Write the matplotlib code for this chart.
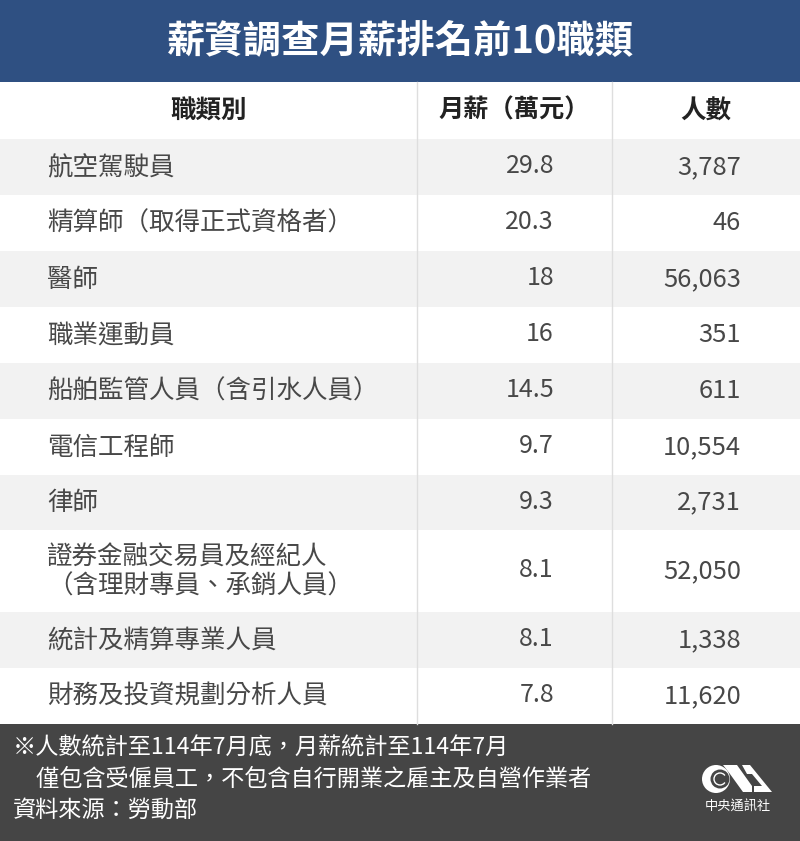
import matplotlib
matplotlib.use("Agg")
import matplotlib.pyplot as plt
from matplotlib.patches import Rectangle, Circle, Polygon, Wedge

plt.rcParams['font.family'] = ['Noto Sans CJK TC', 'DejaVu Sans']

title = "薪資調查月薪排名前10職類"
headers = ["職類別", "月薪（萬元）", "人數"]
jobs = ["航空駕駛員", "精算師（取得正式資格者）", "醫師", "職業運動員",
        "船舶監管人員（含引水人員）", "電信工程師", "律師",
        "證券金融交易員及經紀人\n（含理財專員、承銷人員）",
        "統計及精算專業人員", "財務及投資規劃分析人員"]
salary = ["29.8", "20.3", "18", "16", "14.5", "9.7", "9.3", "8.1", "8.1", "7.8"]
people = ["3,787", "46", "56,063", "351", "611", "10,554", "2,731", "52,050", "1,338", "11,620"]
notes = ["※人數統計至114年7月底，月薪統計至114年7月",
         "　僅包含受僱員工，不包含自行開業之雇主及自營作業者",
         "資料來源：勞動部"]
row_tops = [139, 195, 251, 307, 363, 419, 475, 530, 612, 668, 724]

fig = plt.figure(figsize=(8, 8.41), dpi=100, facecolor="white")
ax = fig.add_axes([0, 0, 1, 1])
ax.set_xlim(0, 800)
ax.set_ylim(841, 0)
ax.axis("off")

# banner + footer
ax.add_patch(Rectangle((0, 0), 800, 82, color="#2f5082", lw=0))
ax.text(400, 42, title, color="white", fontsize=27.6, fontweight="bold", ha="center", va="center")
ax.add_patch(Rectangle((0, 724), 800, 117, color="#454545", lw=0))

# striped rows
for i in range(len(jobs)):
    if i % 2 == 0:
        ax.add_patch(Rectangle((0, row_tops[i]), 800, row_tops[i+1]-row_tops[i], color="#f2f2f2", lw=0))

# column lines
ax.plot([417, 417], [82, 724], color="#dedede", lw=1)
ax.plot([612, 612], [82, 724], color="#dedede", lw=1)

ax.text(209, 111, headers[0], fontsize=18.4, fontweight="bold", ha="center", va="center", color="#222222")
ax.text(514, 110, headers[1], fontsize=18.2, fontweight="bold", ha="center", va="center", color="#222222")
ax.text(706, 111, headers[2], fontsize=18.4, fontweight="bold", ha="center", va="center", color="#222222")

for i in range(len(jobs)):
    y = (row_tops[i] + row_tops[i+1]) / 2
    ax.text(47, y+1, jobs[i], fontsize=18.4, ha="left", va="center", color="#484848", linespacing=1.17)
    ax.text(554, y-1, salary[i], fontsize=18, ha="right", va="center", color="#484848")
    ax.text(741, y, people[i], fontsize=18.4, ha="right", va="center", color="#484848")

for y, line in zip([748, 779, 810], notes):
    ax.text(13, y, line, fontsize=16.7, ha="left", va="center", color="white")

# CNA logo
ax.add_patch(Circle((716, 779), 14, color="white", lw=0))
ax.add_patch(Circle((720, 779), 9.5, color="#454545", lw=0))
ax.add_patch(Circle((720, 779), 6, fill=False, ec="white", lw=1))
ax.add_patch(Wedge((720, 779), 8, -35, 35, color="#454545", lw=0))
ax.add_patch(Polygon([(723, 765), (737, 765), (752, 786), (752, 792), (743, 792), (730, 774)], color="white", lw=0))
ax.add_patch(Polygon([(742, 765), (750, 765), (772, 792), (754, 792), (754, 786), (762, 786), (752, 774), (747, 774)], color="white", lw=0))
ax.text(738, 807, "中央通訊社", color="white", fontsize=9.5, ha="center", va="center")

fig.savefig("out.png", dpi=100)
